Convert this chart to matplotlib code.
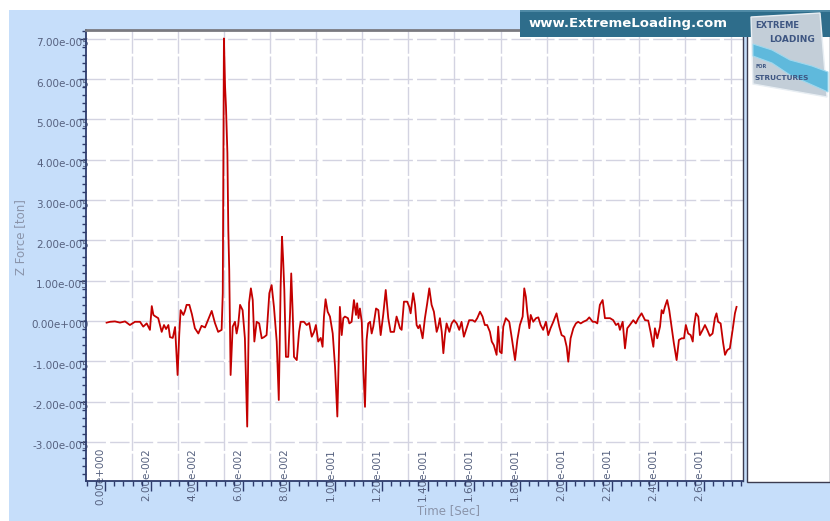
import matplotlib
matplotlib.use('Agg')
import matplotlib.pyplot as plt
import numpy as np
from matplotlib.ticker import FixedLocator, AutoMinorLocator
from matplotlib.patches import Rectangle, Polygon
import matplotlib.transforms as mtransforms

# ---------------- data ----------------
time_s = [0.0007, 0.0022, 0.0043, 0.0065, 0.0087, 0.0108, 0.0130, 0.0152, 0.0166, 0.0181,
          0.0195, 0.0203, 0.0210, 0.0217, 0.0231, 0.0246, 0.0256, 0.0265, 0.0275, 0.0282,
          0.0294, 0.0304, 0.0315, 0.0322, 0.0328, 0.0340, 0.0347, 0.0354, 0.0366, 0.0377,
          0.0390, 0.0405, 0.0419, 0.0434, 0.0463, 0.0477, 0.0491, 0.0506, 0.0511, 0.0513,
          0.0516, 0.0521, 0.0525, 0.0531, 0.0535, 0.0539, 0.0545, 0.0554, 0.0564, 0.0571,
          0.0578, 0.0586, 0.0597, 0.0607, 0.0617, 0.0625, 0.0633, 0.0641, 0.0648, 0.0658,
          0.0669, 0.0680, 0.0690, 0.0701, 0.0713, 0.0723, 0.0733, 0.0745, 0.0754, 0.0762,
          0.0768, 0.0773, 0.0778, 0.0785, 0.0795, 0.0803, 0.0808, 0.0814, 0.0820, 0.0832,
          0.0842, 0.0849, 0.0863, 0.0875, 0.0886, 0.0897, 0.0907, 0.0915, 0.0925, 0.0936,
          0.0944, 0.0950, 0.0957, 0.0966, 0.0976, 0.0988, 0.0998, 0.1008, 0.1015, 0.1019,
          0.1027, 0.1034, 0.1041, 0.1054, 0.1060, 0.1070, 0.1080, 0.1089, 0.1094, 0.1100,
          0.1106, 0.1114, 0.1121, 0.1128, 0.1135, 0.1142, 0.1150, 0.1157, 0.1164, 0.1176,
          0.1186, 0.1196, 0.1207, 0.1218, 0.1229, 0.1239, 0.1254, 0.1265, 0.1272, 0.1280,
          0.1287, 0.1297, 0.1311, 0.1320, 0.1326, 0.1337, 0.1345, 0.1352, 0.1359, 0.1366,
          0.1378, 0.1388, 0.1398, 0.1407, 0.1417, 0.1427, 0.1439, 0.1446, 0.1453, 0.1461,
          0.1468, 0.1475, 0.1482, 0.1494, 0.1504, 0.1514, 0.1526, 0.1537, 0.1547, 0.1557,
          0.1569, 0.1580, 0.1595, 0.1605, 0.1615, 0.1627, 0.1638, 0.1648, 0.1658, 0.1670,
          0.1678, 0.1687, 0.1699, 0.1706, 0.1713, 0.1721, 0.1728, 0.1739, 0.1754, 0.1764,
          0.1779, 0.1789, 0.1800, 0.1812, 0.1819, 0.1826, 0.1832, 0.1841, 0.1847, 0.1858,
          0.1870, 0.1880, 0.1890, 0.1901, 0.1913, 0.1923, 0.1933, 0.1945, 0.1959, 0.1971,
          0.1981, 0.1993, 0.2003, 0.2010, 0.2020, 0.2032, 0.2043, 0.2053, 0.2064, 0.2075,
          0.2090, 0.2101, 0.2116, 0.2126, 0.2136, 0.2147, 0.2159, 0.2169, 0.2179, 0.2191,
          0.2205, 0.2217, 0.2227, 0.2234, 0.2246, 0.2256, 0.2266, 0.2277, 0.2292, 0.2303,
          0.2314, 0.2328, 0.2343, 0.2357, 0.2367, 0.2379, 0.2386, 0.2396, 0.2408, 0.2415,
          0.2422, 0.2429, 0.2439, 0.2448, 0.2458, 0.2468, 0.2480, 0.2490, 0.2502, 0.2512,
          0.2520, 0.2530, 0.2541, 0.2550, 0.2555, 0.2564, 0.2574, 0.2581, 0.2593, 0.2603,
          0.2613, 0.2624, 0.2636, 0.2646, 0.2653, 0.2660, 0.2671, 0.2682, 0.2690, 0.2700,
          0.2711, 0.2723, 0.2733, 0.2740]

# Z force in units of 1e-5 ton
z_force_e5 = [-0.04, -0.02, -0.01, -0.04, -0.01, -0.10, -0.02, -0.02, -0.14, -0.06,
              -0.22, 0.37, 0.15, 0.12, 0.07, -0.27, -0.10, -0.20, -0.10, -0.40,
              -0.42, -0.15, -1.34, -0.35, 0.27, 0.15, 0.25, 0.40, 0.40, 0.17,
              -0.18, -0.31, -0.12, -0.16, 0.25, -0.05, -0.27, -0.22, 0.69, 3.18,
              7.01, 5.81, 5.31, 4.17, 2.26, 1.27, -1.34, -0.14, -0.02, -0.31,
              -0.10, 0.40, 0.27, -0.43, -2.62, 0.45, 0.81, 0.52, -0.51, -0.02,
              -0.06, -0.43, -0.40, -0.35, 0.69, 0.89, 0.35, -0.51, -1.96, 0.84,
              2.09, 1.51, 0.77, -0.89, -0.89, 0.20, 1.18, 0.27, -0.89, -0.97,
              -0.27, -0.02, -0.02, -0.10, -0.05, -0.39, -0.27, -0.10, -0.51, -0.42,
              -0.64, 0.11, 0.54, 0.23, 0.11, -0.31, -1.13, -2.37, -0.72, 0.35,
              -0.35, 0.07, 0.11, 0.07, -0.06, -0.02, 0.52, 0.15, 0.44, 0.07,
              0.31, -0.02, -1.22, -2.13, -0.47, -0.06, -0.02, -0.31, -0.14, 0.31,
              0.27, -0.35, 0.15, 0.77, 0.07, -0.27, -0.27, 0.11, -0.02, -0.18,
              -0.22, 0.48, 0.48, 0.35, 0.19, 0.69, 0.40, -0.10, -0.18, -0.10,
              -0.43, 0.07, 0.44, 0.81, 0.40, 0.23, -0.27, -0.14, 0.07, -0.27,
              -0.80, -0.35, -0.06, -0.27, -0.06, 0.02, -0.06, -0.22, -0.02, -0.39,
              -0.18, 0.02, 0.02, -0.02, 0.07, 0.23, 0.11, -0.10, -0.10, -0.27,
              -0.51, -0.60, -0.84, -0.14, -0.76, -0.80, -0.14, 0.07, -0.02, -0.39,
              -0.97, -0.47, -0.10, 0.11, 0.81, 0.60, 0.23, -0.18, 0.15, -0.02,
              0.07, 0.09, -0.10, -0.22, -0.02, -0.35, -0.18, -0.02, 0.19, -0.14,
              -0.35, -0.39, -0.64, -1.01, -0.43, -0.18, -0.06, -0.02, -0.06, -0.02,
              0.02, 0.09, -0.02, -0.02, -0.06, 0.40, 0.52, 0.07, 0.07, 0.07,
              0.02, -0.10, -0.06, -0.22, -0.02, -0.68, -0.18, -0.10, 0.02, -0.06,
              0.07, 0.19, 0.02, 0.01, -0.27, -0.64, -0.18, -0.43, -0.14, 0.27,
              0.19, 0.35, 0.52, 0.27, -0.14, -0.55, -0.97, -0.47, -0.43, -0.43,
              -0.10, -0.31, -0.35, -0.51, -0.14, 0.19, 0.11, -0.35, -0.22, -0.10,
              -0.22, -0.37, -0.31, 0.07, 0.19, -0.02, -0.06, -0.55, -0.84, -0.72,
              -0.68, -0.22, 0.19, 0.35]

x_ticks = [0.00, 0.02, 0.04, 0.06, 0.08, 0.10, 0.12, 0.14, 0.16, 0.18, 0.20, 0.22, 0.24, 0.26]
x_labels = ['0.00e+000', '2.00e-002', '4.00e-002', '6.00e-002', '8.00e-002', '1.00e-001',
            '1.20e-001', '1.40e-001', '1.60e-001', '1.80e-001', '2.00e-001', '2.20e-001',
            '2.40e-001', '2.60e-001']
y_ticks_e5 = [-3, -2, -1, 0, 1, 2, 3, 4, 5, 6, 7]
y_labels = ['-3.00e-005', '-2.00e-005', '-1.00e-005', '0.00e+000', '1.00e-005', '2.00e-005',
            '3.00e-005', '4.00e-005', '5.00e-005', '6.00e-005', '7.00e-005']
x_title = 'Time [Sec]'
y_title = 'Z Force [ton]'
banner_text = 'www.ExtremeLoading.com'

# ---------------- layout ----------------
W, H = 830, 521
fig = plt.figure(figsize=(W / 100, H / 100), dpi=100)
fig.patch.set_facecolor('white')


def fx(x):
    return x / W


def fy(y):
    return 1 - y / H


BG = '#c6defa'
TXT = '#56617f'
NAVY = '#2e3c6c'
GRID = '#d3d3e1'

fig.add_artist(Rectangle((fx(9), 0), 1 - fx(9), fy(10), transform=fig.transFigure,
                         facecolor=BG, edgecolor='none', zorder=-10))

# right side panel
fig.add_artist(Rectangle((fx(746.5), fy(482)), (830 - 746.5) / W, (482 - 30) / H,
                         transform=fig.transFigure, facecolor='white',
                         edgecolor='#3c3c50', lw=1.0, zorder=1))

ax = fig.add_axes([fx(86), fy(481), (743 - 86) / W, (481 - 30) / H])
ax.set_facecolor('white')
scale = 1e-5
ax.set_xlim(-0.00824, 0.2768)
ax.set_ylim(-3.97 * scale, 7.22 * scale)

# grid (vertical grid lines in this software sit between the ticks)
for v in y_ticks_e5:
    ax.axhline(v * scale, color=GRID, lw=1.0, ls=(0, (14, 3)), zorder=0)
for t in np.array(x_ticks) + 0.0116:
    ax.axvline(t, color=GRID, lw=1.0, ls=(0, (20, 2)), zorder=0)

ax.plot(time_s, np.array(z_force_e5) * scale, color='#c40000', lw=1.3, zorder=3,
        solid_joinstyle='round')

# ticks
ax.xaxis.set_major_locator(FixedLocator(x_ticks))
ax.xaxis.set_minor_locator(AutoMinorLocator(5))
ax.yaxis.set_major_locator(FixedLocator([v * scale for v in y_ticks_e5]))
ax.yaxis.set_minor_locator(AutoMinorLocator(5))
ax.set_xticklabels(x_labels)
ax.set_yticklabels(y_labels)

px = 0.72  # points per pixel
ax.tick_params(axis='x', which='major', direction='out', length=10 * px, width=1,
               color=NAVY, pad=-43 * px, labelsize=7.5, labelcolor=TXT)
ax.tick_params(axis='x', which='minor', direction='out', length=5 * px, width=1, color=NAVY)
ax.tick_params(axis='y', which='major', direction='out', length=7 * px, width=1,
               color=NAVY, pad=-10 * px, labelsize=7.5, labelcolor=TXT)
ax.tick_params(axis='y', which='minor', direction='out', length=4 * px, width=1, color=NAVY)

for lab in ax.get_xticklabels():
    lab.set_rotation(90)
    lab.set_ha('right')
    lab.set_va('top')
offset = mtransforms.ScaledTranslation(0, -3.5 / 100, fig.dpi_scale_trans)
for lab in ax.get_yticklabels():
    lab.set_transform(lab.get_transform() + offset)

ax.spines['top'].set_color('#7a7a80')
ax.spines['top'].set_linewidth(2.0)
ax.spines['left'].set_color(NAVY)
ax.spines['left'].set_linewidth(1.3)
ax.spines['bottom'].set_color(NAVY)
ax.spines['bottom'].set_linewidth(1.3)
ax.spines['right'].set_color('#3c3c50')
ax.spines['right'].set_linewidth(1.0)

fig.text(fx(20.7), fy(237), y_title, rotation=90, ha='center', va='center',
         fontsize=8.5, color='#8a94aa')
fig.text(fx(448), fy(511), x_title, ha='center', va='center', fontsize=8.5, color='#8a94aa')

# banner
fig.add_artist(Rectangle((fx(520), fy(37)), (830 - 520) / W, 27 / H, transform=fig.transFigure,
                         facecolor='#2e6d8b', edgecolor='none', zorder=5))
fig.add_artist(Rectangle((fx(520), fy(12)), (830 - 520) / W, 2 / H, transform=fig.transFigure,
                         facecolor='#4f8aa6', edgecolor='none', zorder=5))
fig.text(fx(628), fy(23), banner_text, ha='center', va='center', fontsize=9.5,
         fontweight='bold', color='white', zorder=6)

# logo
def P(pts):
    return [(fx(a), fy(b)) for a, b in pts]

fig.add_artist(Polygon(P([(751, 17), (820, 13), (827, 97), (753, 84)]), closed=True,
                       transform=fig.transFigure, facecolor='#c3ced8', edgecolor='#e8eef3',
                       lw=1.0, zorder=7))
fig.add_artist(Polygon(P([(753, 44), (772, 50), (790, 60), (812, 66), (828, 72), (828, 92),
                          (810, 84), (790, 75), (772, 63), (753, 56)]), closed=True,
                       transform=fig.transFigure, facecolor='#5fb9dc', edgecolor='#9fd8ee',
                       lw=0.8, zorder=8))
fig.text(fx(755), fy(25), 'EXTREME', ha='left', va='center', fontsize=6, fontweight='bold',
         color='#3e5682', zorder=9)
fig.text(fx(769), fy(39), 'LOADING', ha='left', va='center', fontsize=6.5, fontweight='bold',
         color='#3e5682', zorder=9)
fig.text(fx(755), fy(66), 'FOR', ha='left', va='center', fontsize=3.5, fontweight='bold',
         color='#3e5682', zorder=9)
fig.text(fx(754), fy(78), 'STRUCTURES', ha='left', va='center', fontsize=5.3, fontweight='bold',
         color='#3e5682', zorder=9)

fig.savefig('out.png', dpi=100, facecolor=fig.get_facecolor())
